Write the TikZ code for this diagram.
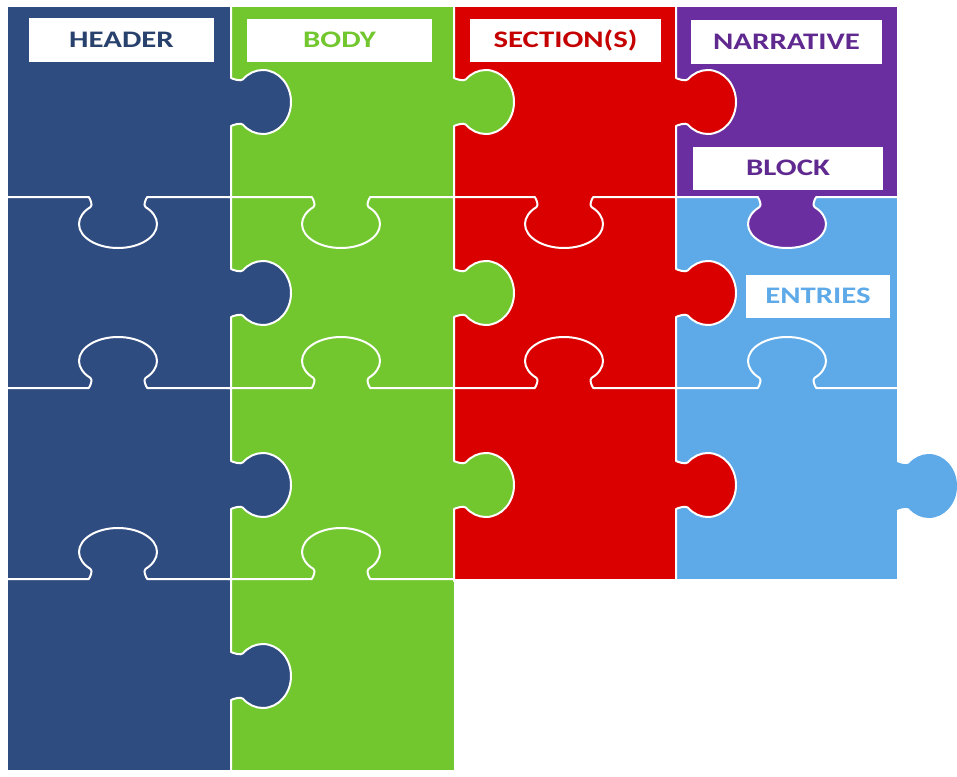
\documentclass[tikz,border=0pt]{standalone}
\usepackage{fontspec}
\newfontfamily\puzzlefont{Carlito}[FakeStretch=1.3]
\usepackage{tikz}

% one tab of a puzzle piece, in the frame of the edge it sits on
\newcommand{\knobcurve}{.. controls (0.03,-0.72) and (0.164,-0.635) .. (0.198,-0.707)
	.. controls (0.286,-0.894) and (0.405,-1) .. (0.53,-1)
	.. controls (0.79,-1) and (1,-0.552) .. (1,0)
	.. controls (1,0.552) and (0.79,1) .. (0.53,1)
	.. controls (0.405,1) and (0.286,0.894) .. (0.198,0.707)
	.. controls (0.164,0.635) and (0.03,0.72) .. (0,0.75)}
\newcommand{\puzzletab}[5]{%
	\begin{scope}[shift={(#2,#3)},#1]
		\fill[#5] (0,-0.75) \knobcurve -- cycle;
		\draw[seam] (0,-#4) -- (0,-0.75) \knobcurve -- (0,#4);
	\end{scope}}

\begin{document}
\begin{tikzpicture}
		[x=1pt,y=-1pt,line cap=round,
		%Styles
		seam/.style={white,line width=2pt,line join=round},
		right tab/.style={x={(60pt,0pt)},y={(0pt,-32pt)}},
		down tab/.style={x={(0pt,-51pt)},y={(39pt,0pt)}},
		up tab/.style={x={(0pt,51pt)},y={(39pt,0pt)}},
		labelbox/.style={fill=white,inner sep=0pt,minimum height=43pt,text height=15pt,text depth=0pt,
			font=\puzzlefont\bfseries\fontsize{23.7}{28}\selectfont}
		]
		
		%Colors
		\definecolor{headerblue}{HTML}{2F4C80}
		\definecolor{bodygreen}{HTML}{72C72E}
		\definecolor{sectionred}{HTML}{DA0000}
		\definecolor{narrativepurple}{HTML}{6A2EA0}
		\definecolor{entryblue}{HTML}{5EAAE8}
		
		\useasboundingbox (0,0) rectangle (957,776);
		
		%The pieces
		\fill[headerblue] (8,7) rectangle (231,770);
		\fill[bodygreen] (231,7) rectangle (454,770);
		\fill[sectionred] (454,7) rectangle (676,579);
		\fill[narrativepurple] (676,7) rectangle (897,197);
		\fill[entryblue] (676,197) rectangle (897,579);
		
		%Tabs and seams
		\foreach \y in {102,293,485,676}
			\puzzletab{right tab}{231}{\y}{3}{headerblue};
		\foreach \y/\c in {102/bodygreen,293/bodygreen,485/bodygreen}
			\puzzletab{right tab}{454}{\y}{3}{\c};
		\foreach \y in {102,293,485}
			\puzzletab{right tab}{676}{\y}{3}{sectionred};
		\foreach \x/\c in {118/headerblue,341/bodygreen,564/sectionred,787/narrativepurple}
			\puzzletab{down tab}{\x}{197}{2.9}{\c};
		\foreach \x/\c in {118/headerblue,341/bodygreen,564/sectionred,787/entryblue}
			\puzzletab{up tab}{\x}{388}{2.9}{\c};
		\foreach \x/\c in {118/headerblue,341/bodygreen}
			\puzzletab{up tab}{\x}{579}{2.9}{\c};
		\begin{scope}[shift={(897,486)},right tab]
			\fill[entryblue] (0,-0.75) \knobcurve -- cycle;
		\end{scope}
		
		%Labels
		\node[labelbox,minimum width=185pt,text=headerblue!85!black] (header) at (121.5,40) {HEADER};
		\node[labelbox,minimum width=185pt,text=bodygreen] (body) at (339.5,40.5) {BODY};
		\node[labelbox,minimum width=191pt,text=sectionred!90!black] (sections) at (565.5,40.5) {SECTION(S)};
		\node[labelbox,minimum width=191pt,text=narrativepurple!90!black] (narrative) at (786.5,42) {NARRATIVE};
		\node[labelbox,minimum width=190pt,text=narrativepurple!90!black] (block) at (788,168) {BLOCK};
		\node[labelbox,minimum width=144pt,text=entryblue] (entries) at (818,296) {ENTRIES};
	\end{tikzpicture}
\end{document}
